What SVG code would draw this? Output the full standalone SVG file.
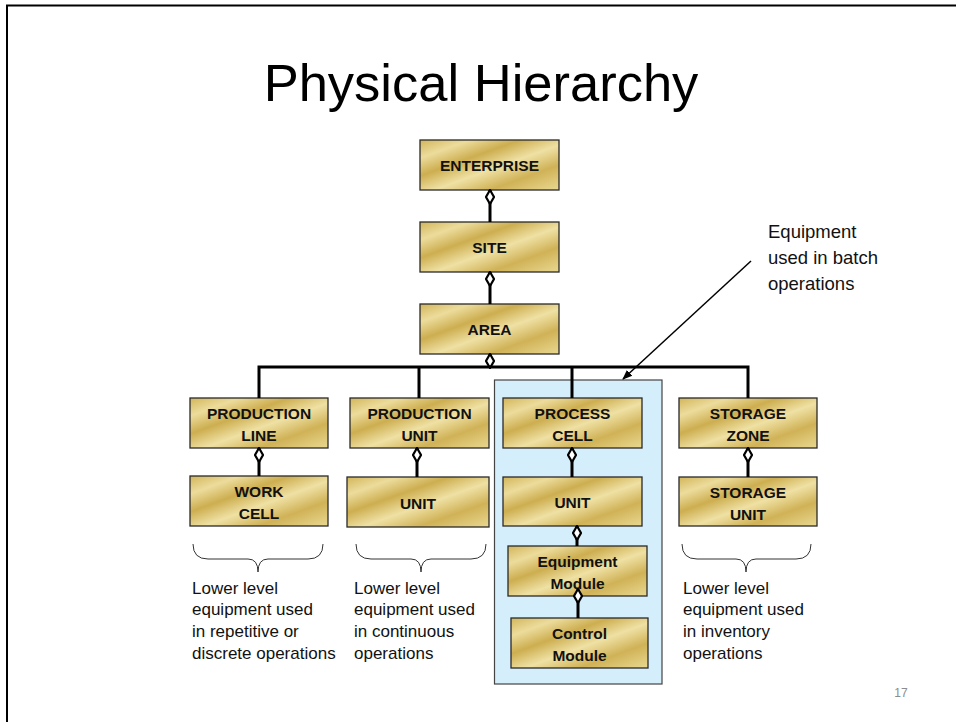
<svg xmlns="http://www.w3.org/2000/svg" width="956" height="722" viewBox="0 0 956 722">
  <defs>
    <linearGradient id="gold" x1="0" y1="0" x2="1" y2="1">
      <stop offset="0" stop-color="#d2b55a"/>
      <stop offset="0.18" stop-color="#ecdc9c"/>
      <stop offset="0.36" stop-color="#cdae50"/>
      <stop offset="0.55" stop-color="#efe1a4"/>
      <stop offset="0.75" stop-color="#d0b257"/>
      <stop offset="1" stop-color="#e9d891"/>
    </linearGradient>
    <marker id="diamond" viewBox="-1 -1 16 10" refX="0" refY="4" markerWidth="16" markerHeight="10" markerUnits="userSpaceOnUse" orient="auto">
      <path d="M0,4 L7,0 L14,4 L7,8 Z" fill="#fff" stroke="#000" stroke-width="2.2"/>
    </marker>
    <marker id="arrow" viewBox="0 0 10 10" refX="9" refY="5" markerWidth="10" markerHeight="10" markerUnits="userSpaceOnUse" orient="auto">
      <path d="M0,1 L10,5 L0,9 Z" fill="#000"/>
    </marker>
  </defs>
  <style>
    .node rect { fill: url(#gold); stroke: #2a2a2a; stroke-width: 1.3; }
    .node text { font-family: "Liberation Sans", Arial, sans-serif; font-weight: bold; font-size: 15.5px; fill: #111; text-anchor: middle; }
    .link { fill: none; stroke: #000; stroke-width: 3; }
    .has-diamond { marker-start: url(#diamond); }
    .note { font-family: "Liberation Sans", Arial, sans-serif; font-size: 17px; fill: #111; }
    .callout { font-family: "Liberation Sans", Arial, sans-serif; font-size: 18.5px; fill: #111; }
    .brace { fill: none; stroke: #333; stroke-width: 1; }
  </style>

  <rect x="0" y="0" width="956" height="722" fill="#fff"/>
  <!-- slide frame (left and top edges) -->
  <path d="M7,722 V5.5 H956" fill="none" stroke="#000" stroke-width="2"/>

  <text x="481" y="101" font-family="Liberation Sans, Arial, sans-serif" font-size="52.5" text-anchor="middle" fill="#000">Physical Hierarchy</text>

  <!-- batch-operations frame -->
  <rect id="batch-frame" x="494.5" y="380" width="167.5" height="304" fill="#d5eefb" stroke="#444" stroke-width="1.2"/>

  <g id="enterprise" class="node"><rect x="420" y="140" width="139" height="50"/><text x="489.5" y="171">ENTERPRISE</text></g>
  <g id="site" class="node"><rect x="420" y="222" width="139" height="50"/><text x="489.5" y="253">SITE</text></g>
  <g id="area" class="node"><rect x="420" y="304" width="139" height="50"/><text x="489.5" y="335">AREA</text></g>

  <g id="production-line" class="node"><rect x="190" y="398" width="138" height="50"/><text x="259" y="419">PRODUCTION</text><text x="259" y="441">LINE</text></g>
  <g id="work-cell" class="node"><rect x="190" y="476" width="138" height="50"/><text x="259" y="497">WORK</text><text x="259" y="519">CELL</text></g>

  <g id="production-unit" class="node"><rect x="350" y="398" width="139" height="50"/><text x="419.5" y="419">PRODUCTION</text><text x="419.5" y="441">UNIT</text></g>
  <g id="unit-continuous" class="node"><rect x="347" y="477" width="142" height="50"/><text x="418" y="509">UNIT</text></g>

  <g id="process-cell" class="node"><rect x="503" y="398" width="139" height="50"/><text x="572.5" y="419">PROCESS</text><text x="572.5" y="441">CELL</text></g>
  <g id="unit-batch" class="node"><rect x="503" y="477" width="139" height="49"/><text x="572.5" y="508">UNIT</text></g>
  <g id="equipment-module" class="node"><rect x="508" y="546" width="139" height="50"/><text x="577.5" y="567">Equipment</text><text x="577.5" y="589">Module</text></g>
  <g id="control-module" class="node"><rect x="511" y="618" width="137" height="50"/><text x="579.5" y="639">Control</text><text x="579.5" y="661">Module</text></g>

  <g id="storage-zone" class="node"><rect x="679" y="398" width="138" height="50"/><text x="748" y="419">STORAGE</text><text x="748" y="441">ZONE</text></g>
  <g id="storage-unit" class="node"><rect x="679" y="477" width="138" height="49"/><text x="748" y="498">STORAGE</text><text x="748" y="520">UNIT</text></g>

  <g id="connectors">
    <path class="link has-diamond" d="M490,190 V222"/>
    <path class="link has-diamond" d="M490,272 V304"/>
    <path class="link has-diamond" d="M490,354 V367"/>
    <path class="link" d="M259,398 V367 H748 V398 M419,367 V398 M572,367 V398"/>
    <path class="link has-diamond" d="M259,448 V476"/>
    <path class="link has-diamond" d="M417,448 V477"/>
    <path class="link has-diamond" d="M572,448 V477"/>
    <path class="link has-diamond" d="M577,526 V546"/>
    <path class="link has-diamond" d="M578,589 V618"/>
    <path class="link has-diamond" d="M748,448 V477"/>
    <path d="M751,261 L623,379" fill="none" stroke="#000" stroke-width="1.5" marker-end="url(#arrow)"/>
  </g>

  <!-- braces -->
  <path class="brace" d="M193,544 Q193,559 208,559 L248,559 Q258,559 258,572 Q258,559 268,559 L308,559 Q323,559 323,544"/>
  <path class="brace" d="M356,544 Q356,559 371,559 L411,559 Q421,559 421,572 Q421,559 431,559 L471,559 Q486,559 486,544"/>
  <path class="brace" d="M682,544 Q682,559 697,559 L736,559 Q746,559 746,572 Q746,559 756,559 L796,559 Q811,559 811,544"/>

  <text class="note" x="192" y="594">Lower level</text>
  <text class="note" x="192" y="615">equipment used</text>
  <text class="note" x="192" y="637">in repetitive or</text>
  <text class="note" x="192" y="659">discrete operations</text>

  <text class="note" x="354" y="594">Lower level</text>
  <text class="note" x="354" y="615">equipment used</text>
  <text class="note" x="354" y="637">in continuous</text>
  <text class="note" x="354" y="659">operations</text>

  <text class="note" x="683" y="594">Lower level</text>
  <text class="note" x="683" y="615">equipment used</text>
  <text class="note" x="683" y="637">in inventory</text>
  <text class="note" x="683" y="659">operations</text>

  <text class="callout" x="768" y="238">Equipment</text>
  <text class="callout" x="768" y="264">used in batch</text>
  <text class="callout" x="768" y="290">operations</text>

  <text x="901" y="697" font-family="Liberation Sans, Arial, sans-serif" font-size="12" fill="#8c8c8c" text-anchor="middle">17</text>
</svg>
